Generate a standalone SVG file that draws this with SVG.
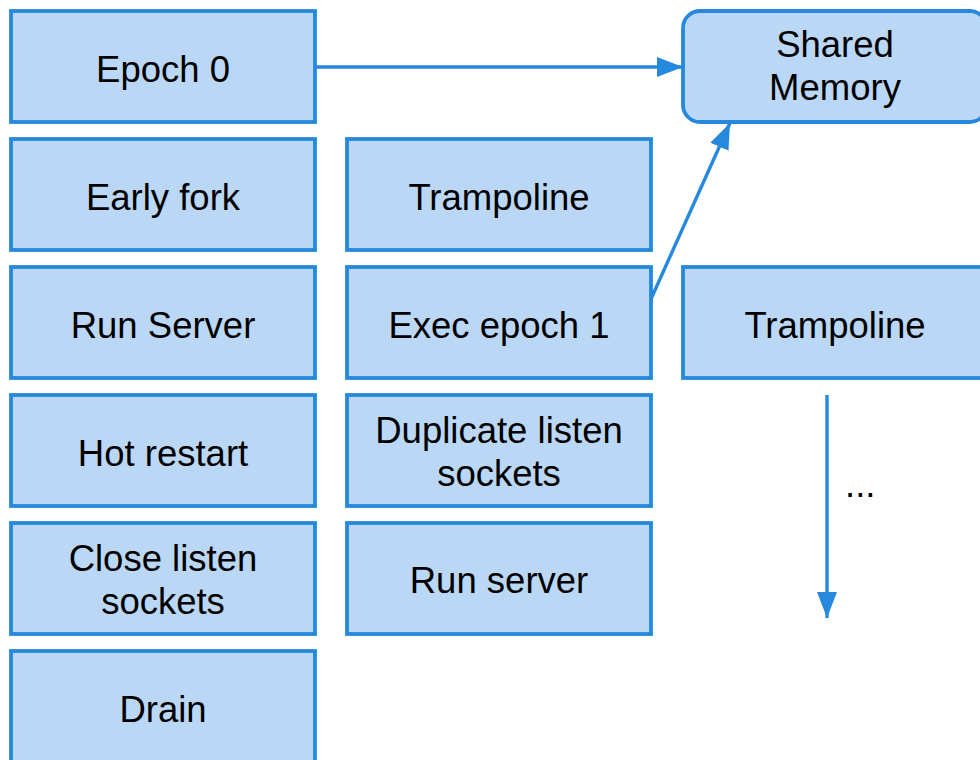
<svg xmlns="http://www.w3.org/2000/svg" width="980" height="760" viewBox="0 0 980 760">
<defs>
<style>
.box{fill:#bad7f5;stroke:#2689de;stroke-width:3.8}
.t{font-family:"Liberation Sans",Arial,sans-serif;font-size:36.5px;fill:#000;text-anchor:middle}
.c{stroke:#2689de;stroke-width:3.4;fill:none}
</style>
<marker id="ah" markerUnits="userSpaceOnUse" markerWidth="26" markerHeight="20" refX="26" refY="10" orient="auto">
<path d="M0,0 L26,10 L0,20 Z" fill="#2689de"/>
</marker>
</defs>
<rect width="980" height="760" fill="#fff"/>
<g id="epoch0"><rect class="box" x="11" y="11" width="304" height="111"/><text class="t" x="163" y="81.5">Epoch 0</text></g>
<g id="earlyfork"><rect class="box" x="11" y="139" width="304" height="111"/><text class="t" x="163" y="209.5">Early fork</text></g>
<g id="runserver0"><rect class="box" x="11" y="267" width="304" height="111"/><text class="t" x="163" y="337.5">Run Server</text></g>
<g id="hotrestart"><rect class="box" x="11" y="395" width="304" height="111"/><text class="t" x="163" y="465.5">Hot restart</text></g>
<g id="closelisten"><rect class="box" x="11" y="523" width="304" height="111"/><text class="t" x="163" y="571">Close listen</text><text class="t" x="163" y="614">sockets</text></g>
<g id="drain"><rect class="box" x="11" y="651" width="304" height="111"/><text class="t" x="163" y="721.5">Drain</text></g>
<g id="trampoline1"><rect class="box" x="347" y="139" width="304" height="111"/><text class="t" x="499" y="209.5">Trampoline</text></g>
<g id="execepoch1"><rect class="box" x="347" y="267" width="304" height="111"/><text class="t" x="499" y="337.5">Exec epoch 1</text></g>
<g id="duplicate"><rect class="box" x="347" y="395" width="304" height="111"/><text class="t" x="499" y="443">Duplicate listen</text><text class="t" x="499" y="486">sockets</text></g>
<g id="runserver1"><rect class="box" x="347" y="523" width="304" height="111"/><text class="t" x="499" y="593">Run server</text></g>
<g id="sharedmemory"><rect class="box" x="683" y="11" width="304" height="111" rx="17"/><text class="t" x="835" y="57">Shared</text><text class="t" x="835" y="100">Memory</text></g>
<g id="trampoline2"><rect class="box" x="683" y="267" width="304" height="111"/><text class="t" x="835" y="337.5">Trampoline</text></g>
<g id="ellipsis"><text class="t" x="845" y="497" style="text-anchor:start">...</text></g>
<g id="connectors">
<line class="c" x1="316" y1="67" x2="683" y2="67" marker-end="url(#ah)"/>
<line class="c" x1="651" y1="299" x2="730" y2="123" marker-end="url(#ah)"/>
<line class="c" x1="827" y1="395" x2="827" y2="618" marker-end="url(#ah)"/>
</g>
</svg>
